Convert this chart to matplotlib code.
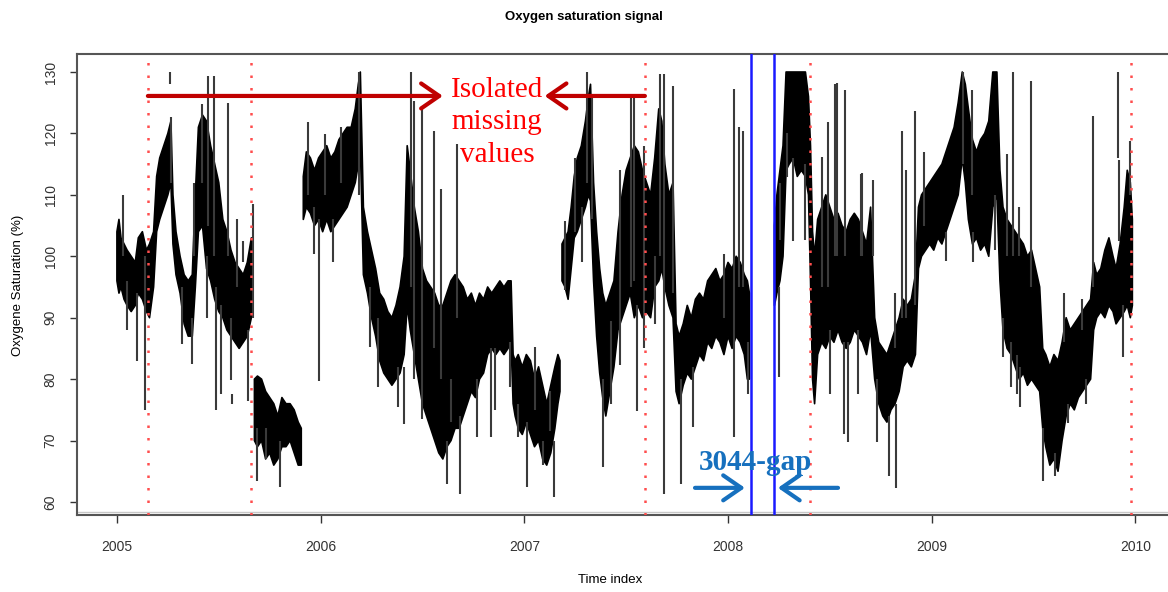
import numpy as np
import matplotlib
matplotlib.use('Agg')
import matplotlib.pyplot as plt

nan = float('nan')

# envelope of the dense signal (time in years, lower / upper value in %), NaN = gap
band_t = [2005.000, 2005.010, 2005.020, 2005.035, 2005.050, 2005.070, 2005.090, 2005.105, 2005.125,
          2005.145, 2005.160, 2005.180, 2005.195, 2005.210, 2005.230, 2005.250, 2005.265, 2005.275,
          2005.290, 2005.310, 2005.330, 2005.350, 2005.370, 2005.385, 2005.400, 2005.420, 2005.440,
          2005.460, 2005.480, 2005.500, 2005.520, 2005.540, 2005.560, 2005.580, 2005.600, 2005.620,
          2005.640, 2005.660, 2005.668,
          2005.675, 2005.690, 2005.710, 2005.730, 2005.750, 2005.770, 2005.790, 2005.810, 2005.830,
          2005.850, 2005.870, 2005.890, 2005.905, 2005.910,
          2005.915, 2005.930, 2005.950, 2005.970, 2005.990, 2006.010, 2006.030, 2006.050, 2006.070,
          2006.090, 2006.110, 2006.130, 2006.150, 2006.170, 2006.185, 2006.195, 2006.210, 2006.230,
          2006.250, 2006.270, 2006.290, 2006.310, 2006.330, 2006.350, 2006.370, 2006.390, 2006.410,
          2006.425, 2006.440, 2006.460, 2006.480, 2006.500, 2006.520, 2006.540, 2006.560, 2006.580,
          2006.600, 2006.620, 2006.640, 2006.660, 2006.680, 2006.700, 2006.720, 2006.740, 2006.760,
          2006.780, 2006.800, 2006.820, 2006.840, 2006.860, 2006.880, 2006.900, 2006.920, 2006.935,
          2006.945, 2006.955, 2006.970, 2006.990, 2007.010, 2007.030, 2007.050, 2007.070, 2007.090,
          2007.110, 2007.130, 2007.150, 2007.165, 2007.175, 2007.180,
          2007.185, 2007.200, 2007.215, 2007.230, 2007.245, 2007.260, 2007.280, 2007.300, 2007.315,
          2007.325, 2007.340, 2007.355, 2007.370, 2007.385, 2007.400, 2007.420, 2007.440, 2007.460,
          2007.480, 2007.500, 2007.520, 2007.540, 2007.560, 2007.580, 2007.600, 2007.620, 2007.640,
          2007.660, 2007.675, 2007.690, 2007.710, 2007.730, 2007.745, 2007.760, 2007.780, 2007.800,
          2007.820, 2007.840, 2007.860, 2007.880, 2007.900, 2007.920, 2007.940, 2007.960, 2007.980,
          2008.000, 2008.020, 2008.040, 2008.060, 2008.080, 2008.095, 2008.105, 2008.110,
          2008.228, 2008.240, 2008.255, 2008.270, 2008.285, 2008.300, 2008.320, 2008.340, 2008.360,
          2008.380, 2008.395, 2008.405, 2008.415, 2008.425, 2008.440, 2008.460, 2008.480, 2008.500,
          2008.520, 2008.540, 2008.560, 2008.580, 2008.600, 2008.620, 2008.640, 2008.660, 2008.680,
          2008.700, 2008.720, 2008.740, 2008.760, 2008.780, 2008.800, 2008.820, 2008.840, 2008.860,
          2008.880, 2008.900, 2008.920, 2008.935, 2008.950, 2008.970, 2008.990, 2009.010, 2009.030,
          2009.050, 2009.070, 2009.090, 2009.110, 2009.130, 2009.150, 2009.165, 2009.180, 2009.200,
          2009.220, 2009.240, 2009.260, 2009.280, 2009.300, 2009.320, 2009.335, 2009.350, 2009.370,
          2009.390, 2009.410, 2009.430, 2009.450, 2009.470, 2009.490, 2009.510, 2009.530, 2009.545,
          2009.560, 2009.580, 2009.600, 2009.620, 2009.640, 2009.660, 2009.680, 2009.700, 2009.720,
          2009.740, 2009.760, 2009.780, 2009.795, 2009.810, 2009.830, 2009.850, 2009.870, 2009.890,
          2009.905, 2009.925, 2009.945, 2009.960, 2009.975, 2009.985]
band_lo = [96, 94, 95, 93, 92, 91, 92, 94, 93,
           91, 90, 95, 104, 106, 108, 110, 112, 102,
           97, 94, 89, 87, 87, 95, 104, 105, 98,
           96, 93, 91, 90, 88, 87, 86, 85, 86,
           87, 90, nan,
           70, 69, 70, 67, 68, 66, 67, 69, 69,
           70, 68, 66, 66, nan,
           106, 108, 107, 105, 106, 104, 106, 104, 105,
           106, 107, 108, 110, 112, 115, 118, 97, 94,
           90, 87, 83, 81, 80, 79, 80, 81, 84,
           92, 88, 84, 80, 76, 74, 72, 70, 68,
           67, 69, 70, 72, 72, 74, 76, 78, 77,
           80, 81, 84, 85, 84, 85, 84, 85, 86,
           76, 74, 72, 71, 73, 71, 69, 70, 67,
           66, 68, 72, 76, 78, nan,
           96, 95, 93, 98, 103, 104, 106, 108, 110,
           109, 96, 87, 81, 77, 74, 78, 82, 88,
           90, 92, 94, 90, 92, 90, 91, 90, 95,
           96, 98, 95, 92, 90, 78, 76, 79, 81,
           80, 82, 84, 83, 86, 85, 87, 86, 84,
           87, 85, 87, 86, 84, 80, 80, nan,
           92, 94, 96, 100, 114, 115, 116, 113, 114,
           113, 110, 96, 80, 76, 84, 86, 85, 87,
           86, 88, 86, 85, 86, 88, 87, 86, 84,
           88, 80, 76, 74, 73, 75, 76, 78, 82,
           83, 82, 84, 98, 100, 101, 102, 101, 103,
           102, 104, 106, 108, 110, 116, 112, 106, 102,
           103, 101, 102, 100, 108, 110, 96, 88, 85,
           84, 82, 80, 81, 79, 80, 79, 78, 72,
           69, 66, 67, 65, 70, 74, 76, 75, 77,
           78, 79, 80, 88, 90, 91, 90, 92, 91,
           89, 90, 91, 92, 90, 92]
band_hi = [104, 106, 103, 102, 101, 100, 99, 103, 104,
           101, 102, 104, 113, 116, 118, 120, 122, 110,
           104, 100, 97, 96, 97, 110, 121, 123, 122,
           118, 115, 112, 106, 104, 101, 99, 98, 97,
           99, 103, nan,
           80, 80.5, 80, 78, 77, 76, 74, 77, 76,
           76, 75, 73, 72, nan,
           113, 117, 116, 114, 116, 117, 118, 116, 117,
           119, 120, 121, 121, 124, 128, 130, 108, 104,
           101, 98, 94, 93, 91, 90, 92, 95, 100,
           118, 114, 108, 104, 98, 96, 95, 94, 92,
           92, 94, 96, 97, 96, 95, 93, 94, 92,
           94, 93, 95, 94, 95, 96, 95, 96, 96,
           84, 83, 84, 82, 84, 83, 80, 82, 79,
           76, 79, 82, 84, 83, nan,
           102, 103, 104, 108, 113, 116, 118, 122, 126,
           128, 112, 104, 98, 94, 92, 94, 96, 104,
           110, 114, 116, 118, 117, 114, 112, 110, 116,
           124, 122, 115, 110, 112, 89, 87, 89, 92,
           90, 93, 94, 93, 96, 97, 98, 96, 97,
           99, 98, 100, 99, 97, 96, 94, nan,
           105, 110, 114, 118, 130, 130, 130, 130, 130,
           130, 126, 118, 104, 100, 106, 108, 110, 108,
           106, 107, 105, 104, 106, 107, 106, 104, 102,
           108, 90, 86, 85, 84, 86, 88, 90, 93,
           92, 93, 97, 108, 110, 111, 112, 113, 114,
           115, 117, 119, 121, 125, 130, 128, 124, 119,
           117, 119, 120, 122, 130, 130, 114, 108, 106,
           105, 104, 103, 102, 100, 101, 98, 95, 85,
           84, 82, 84, 83, 86, 90, 88, 89, 90,
           91, 92, 93, 99, 97, 98, 101, 103, 100,
           98, 102, 108, 114, 112, 106]

# isolated excursions (spikes) drawn as thin vertical strokes
spike_t = [2005.03, 2005.05, 2005.10, 2005.14, 2005.26, 2005.265, 2005.32, 2005.37, 2005.38, 2005.42,
           2005.44, 2005.446, 2005.477, 2005.485, 2005.51, 2005.545, 2005.56, 2005.565, 2005.59, 2005.62,
           2005.645, 2005.667, 2005.69, 2005.73, 2005.80,
           2005.94, 2005.967, 2005.99, 2006.02, 2006.06, 2006.10, 2006.19, 2006.24, 2006.28, 2006.38,
           2006.41, 2006.443, 2006.46, 2006.50, 2006.556, 2006.59, 2006.62, 2006.64, 2006.67, 2006.685,
           2006.77, 2006.834, 2006.855, 2006.93, 2006.97, 2007.013, 2007.05, 2007.09, 2007.125, 2007.145,
           2007.20, 2007.25, 2007.285, 2007.31, 2007.33, 2007.385, 2007.425, 2007.47, 2007.523, 2007.54,
           2007.553, 2007.59, 2007.64, 2007.666, 2007.685, 2007.73, 2007.77, 2007.83, 2007.98, 2008.03,
           2008.055, 2008.075, 2008.098,
           2008.25, 2008.255, 2008.29, 2008.32, 2008.38, 2008.46, 2008.49, 2008.50, 2008.525, 2008.535,
           2008.57, 2008.574, 2008.587, 2008.638, 2008.654, 2008.66, 2008.71, 2008.731, 2008.79, 2008.82,
           2008.827, 2008.854, 2008.872, 2008.918, 2008.962, 2009.07, 2009.153, 2009.20, 2009.205, 2009.31,
           2009.37, 2009.40, 2009.43, 2009.35, 2009.39, 2009.42, 2009.434, 2009.487, 2009.545, 2009.605,
           2009.65, 2009.67, 2009.74, 2009.757, 2009.79, 2009.914, 2009.917, 2009.94, 2009.973]
spike_lo = [100, 88, 83, 75, 128, 112, 85.7, 82.5, 100, 112,
            90, 105, 100, 75, 77.6, 100, 79.8, 76, 95, 99,
            76.4, 90, 63.4, 67, 62.4,
            110, 100.4, 79.7, 110, 99, 112, 110, 85.3, 78.7, 75.5,
            72.7, 95, 80, 73.5, 85, 80, 63, 73, 90, 61.3,
            70.5, 70.5, 74.9, 78.7, 70.5, 62.4, 75, 66, 71.5, 60.8,
            94.5, 104, 99, 112, 106, 65.7, 76, 82.3, 95, 96,
            74.8, 85, 89, 100, 61.3, 94, 63, 72.2, 90, 70.5,
            95, 95, 77.6,
            80.3, 102.6, 112.9, 102.5, 102.6, 95, 95, 77.6, 100, 100,
            71, 100, 69.7, 77.6, 100, 100, 100, 69.7, 64.2, 85,
            62.2, 90, 90, 92, 105, 99.2, 115, 110, 99, 101,
            100, 100, 100, 83.6, 78.7, 77.6, 75.5, 95, 63.4, 64.3,
            86, 72.8, 88, 76, 95, 116, 102.5, 83.6, 110]
spike_hi = [110, 96, 94, 100, 130, 122.7, 95, 90, 112, 124.8,
            100, 129.3, 129.3, 95, 92, 125, 90, 77.5, 106, 102.5,
            88, 108.5, 72, 72, 70,
            121.9, 108, 106, 119.9, 106, 121, 130, 95, 90, 82,
            82, 130, 125.3, 124.3, 120.4, 111, 70, 80, 118.3, 74,
            80, 85, 85, 86, 76, 73, 85.3, 70, 78, 70,
            105.7, 116, 108, 130, 126, 80, 89.4, 114, 126, 126,
            92, 118, 100, 129.7, 129.7, 127.7, 80, 82, 100.4, 127.2,
            121, 120.4, 86,
            95, 112, 120, 116, 115, 116.2, 121.9, 88, 128, 128.2,
            86, 127, 86, 88, 113.4, 113.5, 112.4, 80, 74, 94,
            76, 120.4, 114, 123.6, 117, 104, 130, 127, 104, 110,
            116.6, 130, 108, 90, 86, 84, 82, 128.5, 72, 68,
            94, 76, 93, 80, 122.8, 130, 115.7, 92, 118.7]

# marked positions
isolated_missing = [2005.152, 2005.658, 2007.592, 2008.402, 2009.978]
gap_bounds = [2008.112, 2008.225]
year_ticks = [2005, 2006, 2007, 2008, 2009, 2010]
value_ticks = [60, 70, 80, 90, 100, 110, 120, 130]

plt.rcParams['font.family'] = ['Liberation Sans', 'DejaVu Sans']

fig = plt.figure(figsize=(11.68, 5.92), dpi=100)
ax = fig.add_axes([77 / 1168, 1 - 515 / 592, 1 - 77 / 1168, 461 / 592])

ax.fill_between(band_t, band_lo, band_hi, color='black', linewidth=1.2, edgecolor='black')
ax.vlines(spike_t, spike_lo, spike_hi, color='#3a3a3a', linewidth=1.5)

for x in isolated_missing:
    ax.axvline(x, color='#ff4d4d', linewidth=1.8, linestyle=(0, (1, 4)), zorder=3)
for x in gap_bounds:
    ax.axvline(x, color='#1a1aff', linewidth=1.8, zorder=3)

# red annotation
red_arrow = dict(arrowstyle='->,head_length=0.65,head_width=0.45', lw=3, color='#c00000',
                 mutation_scale=20, shrinkA=0, shrinkB=0)
ax.annotate('', xy=(2006.60, 126.1), xytext=(2005.152, 126.1), arrowprops=red_arrow, zorder=4)
ax.annotate('', xy=(2007.10, 126.1), xytext=(2007.592, 126.1), arrowprops=red_arrow, zorder=4)
ax.text(2006.865, 121.8, 'Isolated\nmissing\nvalues', color='red', fontsize=21,
        family='Liberation Serif', ha='center', va='center', multialignment='center',
        linespacing=1.32, zorder=5)

# blue annotation
blue_arrow = dict(arrowstyle='->,head_length=0.65,head_width=0.45', lw=3, color='#1670be',
                  mutation_scale=20, shrinkA=0, shrinkB=0)
ax.annotate('', xy=(2008.083, 62.3), xytext=(2007.838, 62.3), arrowprops=blue_arrow, zorder=4)
ax.annotate('', xy=(2008.245, 62.3), xytext=(2008.54, 62.3), arrowprops=blue_arrow, zorder=4)
ax.text(2008.137, 66.5, '3044-gap', color='#1670be', fontsize=21, fontweight='bold',
        family='Liberation Serif', ha='center', va='center', zorder=5)

ax.axhline(58.3, color='#c8c8c8', linewidth=1)

ax.set_xlim(2004.804, 2010.16)
ax.set_ylim(57.88, 132.93)
ax.set_xticks(year_ticks)
ax.set_xticklabels([str(y) for y in year_ticks])
ax.set_yticks(value_ticks)
ax.set_yticklabels([str(v) for v in value_ticks], rotation=90, va='center')
ax.tick_params(axis='x', length=6, width=1, colors='#333333', labelsize=10, pad=12)
ax.tick_params(axis='y', length=5, width=1, colors='#333333', labelsize=10, pad=9)

for side in ['left', 'bottom', 'top']:
    ax.spines[side].set_color('#555555')
    ax.spines[side].set_linewidth(1.5)
ax.spines['right'].set_visible(False)

fig.text(0.5, 1 - 17 / 592, 'Oxygen saturation signal', ha='center', va='center',
         fontsize=9.5, fontweight='bold')
fig.text(610 / 1168, 1 - 580 / 592, 'Time index', ha='center', va='center', fontsize=9.5)
fig.text(18 / 1168, 1 - 285 / 592, 'Oxygene Saturation (%)', ha='center', va='center',
         rotation=90, fontsize=9.5)

plt.savefig('out.png', dpi=100)
